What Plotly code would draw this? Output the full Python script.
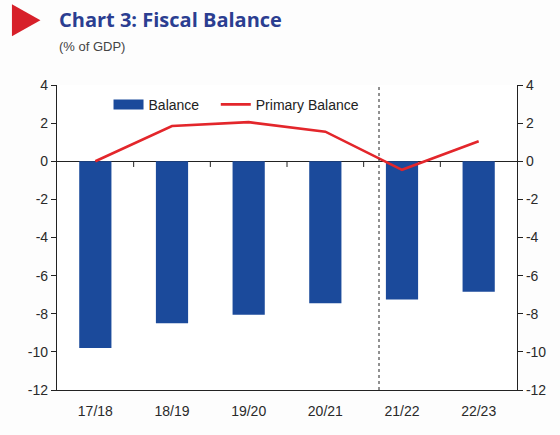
import plotly.graph_objects as go

categories = ["17/18", "18/19", "19/20", "20/21", "21/22", "22/23"]
balance = [-9.8, -8.5, -8.05, -7.45, -7.25, -6.85]
primary_balance = [0.0, 1.85, 2.05, 1.55, -0.45, 1.05]
y_ticks = [4, 2, 0, -2, -4, -6, -8, -10, -12]
y_tick_text = [str(v) for v in y_ticks]
forecast_split = 3.7  # position (in category units) of the dashed divider

BLUE = "#1B4A9B"
RED = "#E3262B"

fig = go.Figure()
fig.add_trace(go.Bar(x=categories, y=balance, name="Balance", showlegend=False,
                     marker=dict(color=BLUE, line=dict(width=0)), width=0.42))
# legend proxy with wide rectangular swatch
fig.add_trace(go.Scatter(x=[None], y=[None], name="Balance   ", mode="lines",
                         line=dict(color=BLUE, width=10)))
fig.add_trace(go.Scatter(x=categories, y=primary_balance, name="Primary Balance",
                         mode="lines", line=dict(color=RED, width=2.6), yaxis="y2"))

axis_font = dict(family="Liberation Sans, Arial", size=14, color="#2a2a2a")
yr = [min(y_ticks), max(y_ticks)]
fig.update_layout(
    width=560, height=435,
    margin=dict(l=57, r=43, t=85, b=45),
    paper_bgcolor="#FDFDFD", plot_bgcolor="#FFFFFF",
    showlegend=True,
    legend=dict(orientation="h", x=0.112, y=0.935, xanchor="left", yanchor="middle",
                bgcolor="rgba(0,0,0,0)", font=dict(family="Liberation Sans, Arial", size=14, color="#222222"),
                tracegroupgap=0),
    xaxis=dict(type="category", showgrid=False, showline=True, linecolor="#222222", linewidth=1.2,
               ticks="", tickfont=axis_font, zeroline=False, range=[-0.5, len(categories) - 0.5],
               ticklabelstandoff=8),
    yaxis=dict(range=yr, tickvals=y_ticks, ticktext=y_tick_text, showgrid=False, zeroline=True,
               zerolinecolor="#222222", zerolinewidth=1, showline=True, linecolor="#222222", linewidth=1.2,
               ticks="outside", ticklen=5, tickcolor="#222222", tickfont=axis_font),
    yaxis2=dict(range=yr, tickvals=y_ticks, ticktext=y_tick_text, overlaying="y", side="right",
                showgrid=False, zeroline=False, showline=True, linecolor="#222222", linewidth=1.2,
                ticks="outside", ticklen=5, tickcolor="#222222", tickfont=axis_font),
)

# category boundary tick marks on the zero line
for i in range(len(categories) - 1):
    fig.add_shape(type="line", xref="x", yref="y", x0=i + 0.5, x1=i + 0.5, y0=0, y1=-0.3,
                  line=dict(color="#222222", width=1))

# dashed divider
fig.add_shape(type="line", xref="x", yref="paper", x0=forecast_split, x1=forecast_split, y0=0, y1=1,
              line=dict(color="#222222", width=1, dash="3px,3px"))

# title with red triangle
fig.add_shape(type="path", xref="paper", yref="paper",
              path="M -0.098 1.265 L -0.036 1.212 L -0.098 1.16 Z",
              fillcolor="#D7202A", line=dict(width=0))
fig.add_annotation(text="<b>Chart 3: Fiscal Balance</b>", xref="paper", yref="paper",
                   x=0.0, y=1.215, xanchor="left", yanchor="middle", showarrow=False,
                   font=dict(family="Open Sans, Liberation Sans", size=20, color="#2B3E91"))
fig.add_annotation(text="(% of GDP)", xref="paper", yref="paper",
                   x=0.0, y=1.127, xanchor="left", yanchor="middle", showarrow=False,
                   font=dict(family="Liberation Sans, Arial", size=13, color="#444444"))

fig.write_html("out.html")
